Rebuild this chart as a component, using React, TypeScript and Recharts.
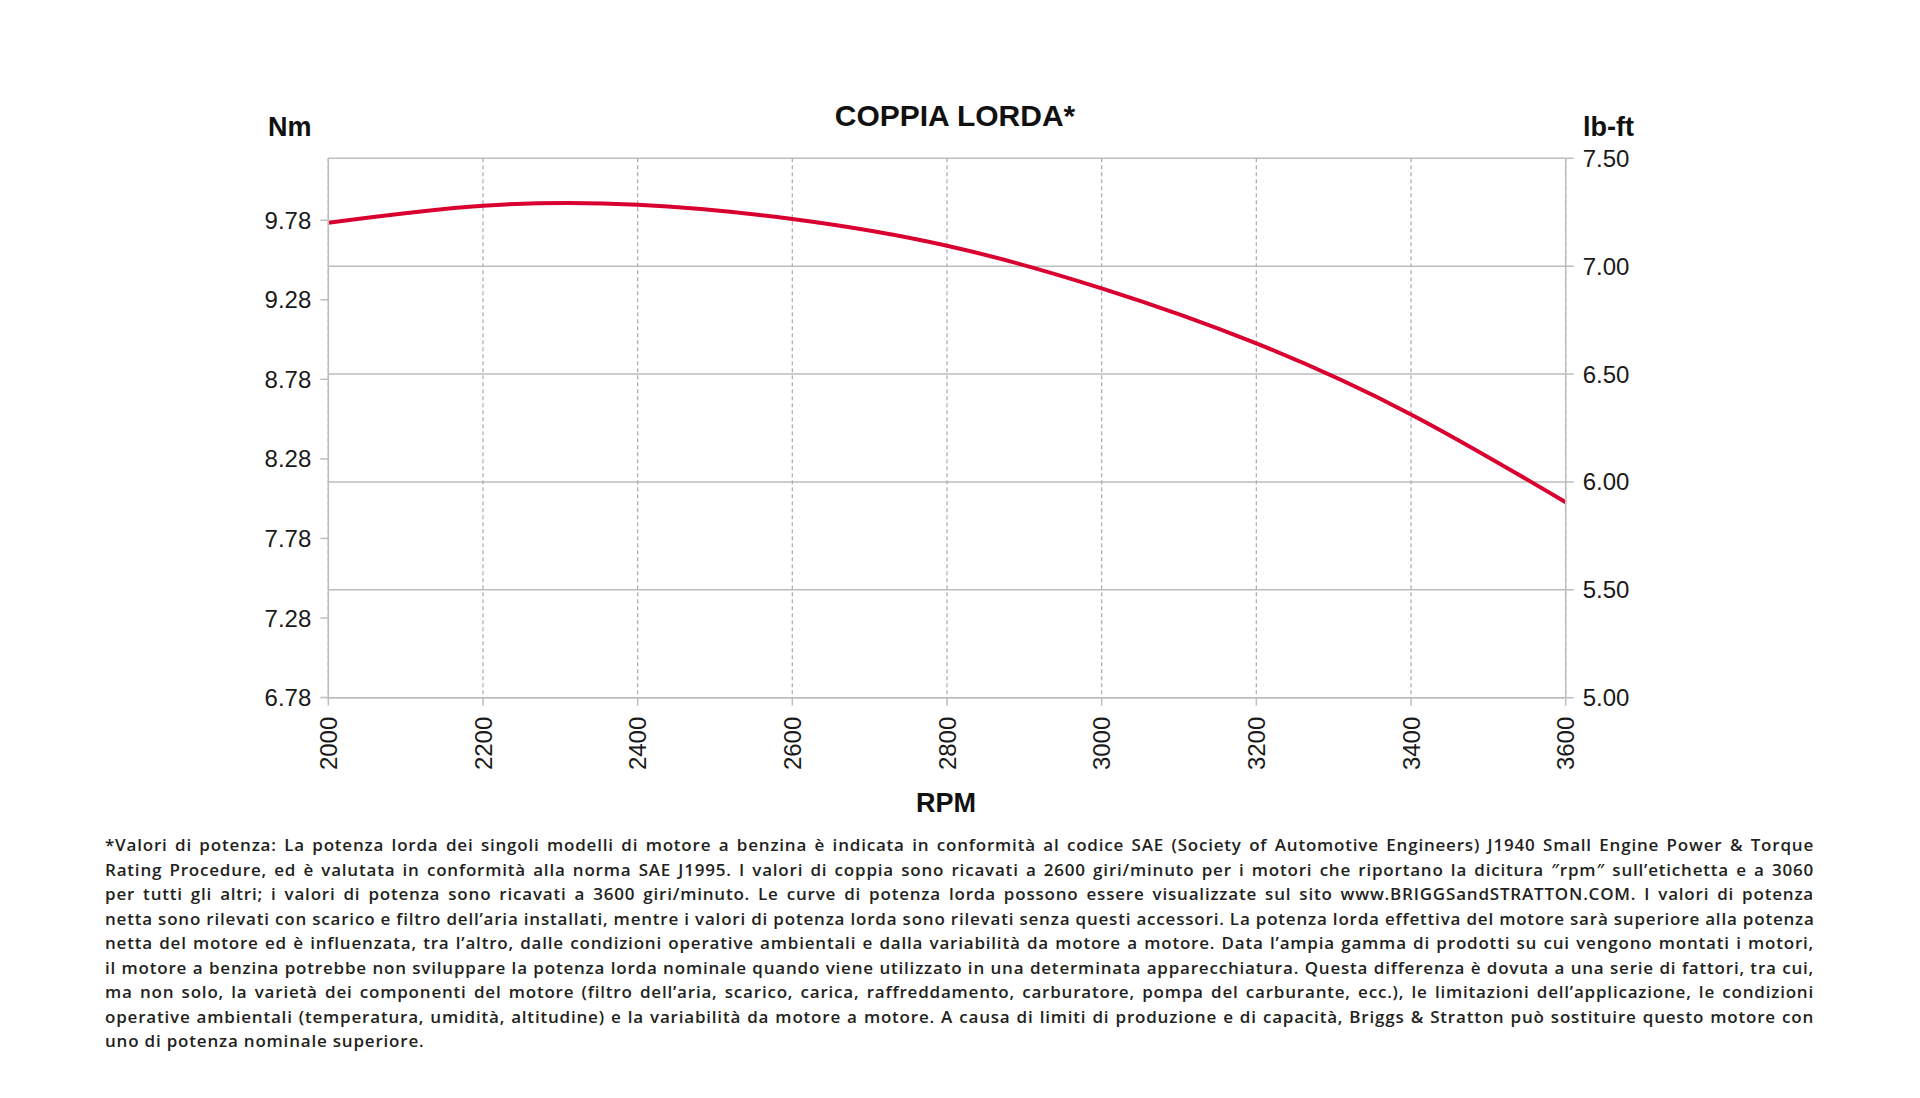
import {
  LineChart, Line, XAxis, YAxis, CartesianGrid,
} from 'recharts'

// engine speed (rpm) and gross torque (lb-ft)
const rpm = [2000, 2200, 2400, 2600, 2800, 3000, 3200, 3400, 3600]
const torqueLbFt = [7.201, 7.28, 7.285, 7.219, 7.095, 6.897, 6.642, 6.313, 5.906]

const rpmTicks = [2000, 2200, 2400, 2600, 2800, 3000, 3200, 3400, 3600]
const lbFtTicks = [5.0, 5.5, 6.0, 6.5, 7.0, 7.5]
const nmTicks = [6.78, 7.28, 7.78, 8.28, 8.78, 9.28, 9.78]
// 5.00 .. 7.50 lb-ft expressed in Nm
const nmDomain = [6.779, 10.169]

const title = 'COPPIA LORDA*'

const footnoteLines = [
  '*Valori di potenza: La potenza lorda dei singoli modelli di motore a benzina è indicata in conformità al codice SAE (Society of Automotive Engineers) J1940 Small Engine Power & Torque',
  'Rating Procedure, ed è valutata in conformità alla norma SAE J1995. I valori di coppia sono ricavati a 2600 giri/minuto per i motori che riportano la dicitura ″rpm″ sull’etichetta e a 3060',
  'per tutti gli altri; i valori di potenza sono ricavati a 3600 giri/minuto. Le curve di potenza lorda possono essere visualizzate sul sito www.BRIGGSandSTRATTON.COM. I valori di potenza',
  'netta sono rilevati con scarico e filtro dell’aria installati, mentre i valori di potenza lorda sono rilevati senza questi accessori. La potenza lorda effettiva del motore sarà superiore alla potenza',
  'netta del motore ed è influenzata, tra l’altro, dalle condizioni operative ambientali e dalla variabilità da motore a motore. Data l’ampia gamma di prodotti su cui vengono montati i motori,',
  'il motore a benzina potrebbe non sviluppare la potenza lorda nominale quando viene utilizzato in una determinata apparecchiatura. Questa differenza è dovuta a una serie di fattori, tra cui,',
  'ma non solo, la varietà dei componenti del motore (filtro dell’aria, scarico, carica, raffreddamento, carburatore, pompa del carburante, ecc.), le limitazioni dell’applicazione, le condizioni',
  'operative ambientali (temperatura, umidità, altitudine) e la variabilità da motore a motore. A causa di limiti di produzione e di capacità, Briggs & Stratton può sostituire questo motore con',
  'uno di potenza nominale superiore.',
]

const data = rpm.map((r, i) => ({ rpm: r, torque: torqueLbFt[i] }))

const AXIS_FONT = '"Liberation Sans", Arial, Helvetica, sans-serif'
const GRID = '#bdbdbd'
const RED = '#d9002f'

function RpmTick(props: any) {
  const { x, y, payload } = props
  return (
    <text
      x={x}
      y={y}
      transform={`rotate(-90, ${x}, ${y})`}
      textAnchor="end"
      dy="0.36em"
      fill="#1a1a1a"
      fontSize={24}
      fontFamily={AXIS_FONT}
    >
      {payload.value}
    </text>
  )
}

const labelStyle: React.CSSProperties = {
  position: 'absolute',
  fontFamily: AXIS_FONT,
  fontWeight: 700,
  color: '#111',
  whiteSpace: 'nowrap',
  lineHeight: 1,
}

export default function App() {
  return (
    <div style={{ position: 'absolute', left: 0, top: 0, width: 1920, height: 1098, background: '#fff', overflow: 'hidden' }}>
      <div style={{ ...labelStyle, left: 955, top: 116, fontSize: 30, transform: 'translate(-50%, -50%)' }}>{title}</div>
      <div style={{ ...labelStyle, left: 268, top: 127, fontSize: 27, transform: 'translateY(-50%)' }}>Nm</div>
      <div style={{ ...labelStyle, left: 1583, top: 127, fontSize: 27, transform: 'translateY(-50%)' }}>lb-ft</div>
      <div style={{ ...labelStyle, left: 946, top: 803, fontSize: 27, transform: 'translate(-50%, -50%)' }}>RPM</div>

      <div style={{ position: 'absolute', left: 0, top: 0 }}>
        <LineChart
          width={1920}
          height={800}
          data={data}
          margin={{ top: 158.3, right: 274.3, bottom: 22.3, left: 248.3 }}
        >
          <CartesianGrid yAxisId="right" vertical={false} stroke={GRID} strokeWidth={1.5} />
          <CartesianGrid yAxisId="right" horizontal={false} stroke="#b0b0b0" strokeDasharray="4 3" strokeWidth={1.3} />
          <XAxis
            dataKey="rpm"
            type="number"
            domain={[2000, 3600]}
            ticks={rpmTicks}
            interval={0}
            height={80}
            stroke={GRID}
            strokeWidth={1.5}
            tickSize={8}
            tickMargin={11}
            tick={<RpmTick />}
          />
          <YAxis
            yAxisId="left"
            orientation="left"
            type="number"
            domain={nmDomain}
            allowDataOverflow
            ticks={nmTicks}
            interval={0}
            width={80}
            stroke={GRID}
            strokeWidth={1.5}
            tickSize={8}
            tickMargin={9}
            tickFormatter={(v: number) => v.toFixed(2)}
            tick={{ fill: '#1a1a1a', fontSize: 24, fontFamily: AXIS_FONT }}
          />
          <YAxis
            yAxisId="right"
            orientation="right"
            type="number"
            domain={[5, 7.5]}
            allowDataOverflow
            ticks={lbFtTicks}
            interval={0}
            width={80}
            stroke={GRID}
            strokeWidth={1.5}
            tickSize={8}
            tickMargin={9}
            tickFormatter={(v: number) => v.toFixed(2)}
            tick={{ fill: '#1a1a1a', fontSize: 24, fontFamily: AXIS_FONT }}
          />
          <Line
            yAxisId="right"
            dataKey="torque"
            type="natural"
            stroke={RED}
            strokeWidth={4}
            dot={false}
            activeDot={false}
            isAnimationActive={false}
          />
        </LineChart>
      </div>

      <div
        style={{
          position: 'absolute',
          left: 105,
          top: 833,
          width: 1709,
          fontFamily: '"Open Sans", sans-serif',
          fontWeight: 600,
          fontSize: 17,
          letterSpacing: '0.8px',
          lineHeight: '24.5px',
          color: '#231f20',
        }}
      >
        {footnoteLines.map((line, i) => (
          <div
            key={i}
            style={{
              whiteSpace: 'nowrap',
              textAlign: i === footnoteLines.length - 1 ? 'left' : 'justify',
              textAlignLast: i === footnoteLines.length - 1 ? 'left' : 'justify',
            }}
          >
            {line}
          </div>
        ))}
      </div>
    </div>
  )
}
